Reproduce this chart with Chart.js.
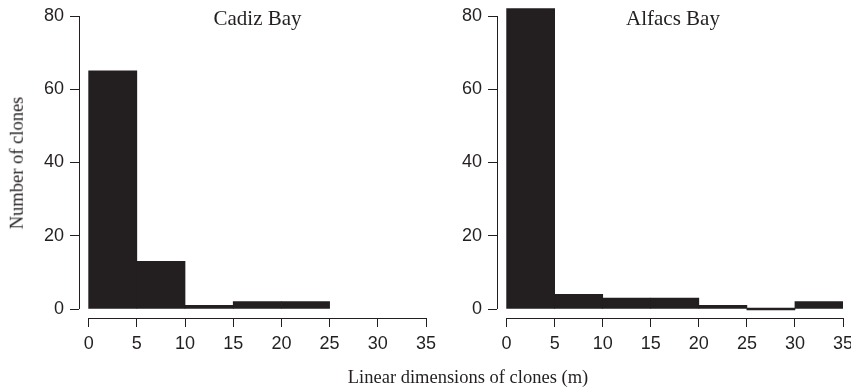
<!DOCTYPE html>
<html lang="en">
<head>
<meta charset="UTF-8">
<title>Linear dimensions of clones</title>
<script src="https://cdn.jsdelivr.net/npm/chart.js@4"></script>
<style>
  body { margin: 0; background: #fff; }
  #wrap { position: relative; width: 851px; height: 390px; overflow: hidden; }
  #wrap canvas { position: absolute; left: 0; top: 0; }
  .lbl {
    position: absolute;
    font-family: "Liberation Serif", "Times New Roman", serif;
    color: #231f20;
    line-height: 1;
    white-space: nowrap;
    transform: translate(-50%, -50%);
  }
</style>
</head>
<body>
<div id="wrap">
  <canvas id="cadiz" width="851" height="390"></canvas>
  <canvas id="alfacs" width="880" height="390"></canvas>
  <div class="lbl" style="left:257.5px; top:17.5px; font-size:21px;">Cadiz Bay</div>
  <div class="lbl" style="left:673px; top:17.5px; font-size:21px;">Alfacs Bay</div>
  <div class="lbl" style="left:16.5px; top:163px; font-size:18.5px; transform:translate(-50%,-50%) rotate(-90deg);">Number of clones</div>
  <div class="lbl" style="left:468px; top:377px; font-size:18.5px;">Linear dimensions of clones (m)</div>
</div>

<script>
  // histogram bins (m) and counts
  const binStarts = [0, 5, 10, 15, 20, 25, 30];
  const binWidth = 5;
  const cadizCounts = [65, 13, 1, 2, 2];
  const alfacsCounts = [82, 4, 3, 3, 1, 0, 2];
  const xTicks = [0, 5, 10, 15, 20, 25, 30, 35];
  const yTicks = [0, 20, 40, 60, 80];

  const ink = "#231f20";
  const tickFont = { family: "'Liberation Sans', Arial, Helvetica, sans-serif", size: 18 };

  // R-style detached axes: lines only span first..last tick
  const rAxes = {
    id: "rAxes",
    afterDraw(chart) {
      const { ctx, chartArea, scales } = chart;
      const x = scales.x, y = scales.y;
      const yb = Math.round(chartArea.bottom) + 0.5;
      const xl = Math.round(chartArea.left) + 0.5;
      ctx.save();
      ctx.strokeStyle = ink;
      ctx.lineWidth = 1;
      ctx.beginPath();
      ctx.moveTo(x.getPixelForValue(xTicks[0]), yb);
      ctx.lineTo(x.getPixelForValue(xTicks[xTicks.length - 1]), yb);
      ctx.moveTo(xl, y.getPixelForValue(yTicks[0]));
      ctx.lineTo(xl, y.getPixelForValue(yTicks[yTicks.length - 1]));
      ctx.stroke();
      ctx.restore();
    }
  };

  // keep the plot box where we put it: no extra room for label overhang
  function noPad(s) {
    s.paddingTop = 0; s.paddingBottom = 0; s.paddingLeft = 0; s.paddingRight = 0;
  }

  function makeChart(id, counts, left, right) {
    const canvas = document.getElementById(id);
    const points = counts.map((c, i) => ({ x: binStarts[i] + binWidth / 2, y: c }));
    return new Chart(canvas, {
      type: "bar",
      data: {
        datasets: [{
          data: points,
          backgroundColor: ink,
          borderWidth: 0,
          barPercentage: 1,
          categoryPercentage: 1,
          minBarLength: 2
        }]
      },
      options: {
        responsive: false,
        animation: false,
        layout: { padding: { left: left - 79, right: canvas.width - right, top: 1, bottom: 0 } },
        plugins: { legend: { display: false }, tooltip: { enabled: false } },
        scales: {
          x: {
            type: "linear",
            offset: false,
            min: -1,
            max: 35,
            afterBuildTicks: s => { s.ticks = xTicks.map(v => ({ value: v })); },
            afterFit: s => { s.height = 72; noPad(s); },
            grid: { offset: false, drawOnChartArea: false, drawTicks: true, tickLength: 9, color: ink },
            border: { display: false },
            ticks: { font: tickFont, color: ink, padding: 6, maxRotation: 0, autoSkip: false }
          },
          y: {
            min: -2.457,
            max: 84.1,
            afterBuildTicks: s => { s.ticks = yTicks.map(v => ({ value: v })); },
            afterFit: s => { s.width = 79; noPad(s); },
            grid: { drawOnChartArea: false, drawTicks: true, tickLength: 9, color: ink },
            border: { display: false },
            ticks: { font: tickFont, color: ink, padding: 6 }
          }
        }
      },
      plugins: [rAxes]
    });
  }

  makeChart("cadiz", cadizCounts, 79, 426);
  makeChart("alfacs", alfacsCounts, 497, 843);
</script>
</body>
</html>
